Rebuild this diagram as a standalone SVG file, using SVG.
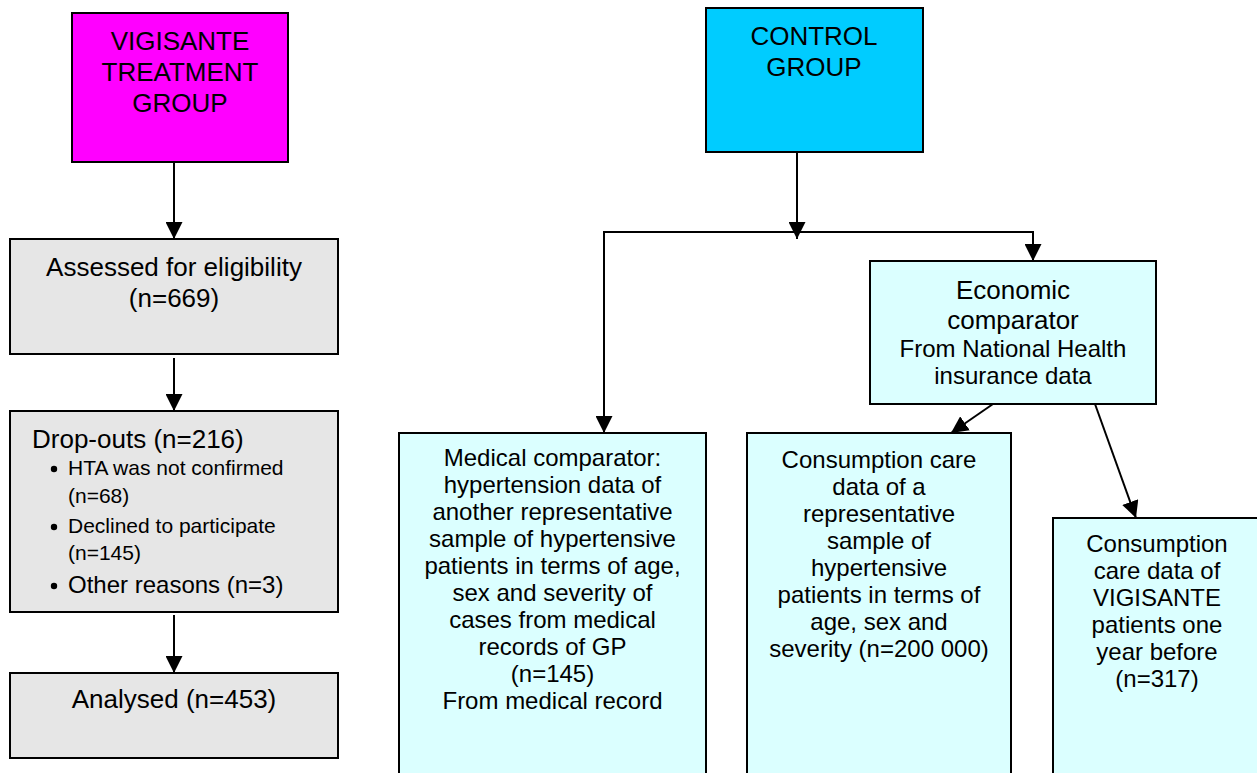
<svg xmlns="http://www.w3.org/2000/svg" width="1257" height="773" viewBox="0 0 1257 773">
<style>
text{font-family:"Liberation Sans",Arial,sans-serif;fill:#000}
.c{text-anchor:middle}
.f26{font-size:26px}
.f24{font-size:24px}
.f21{font-size:21px}
.box{stroke:#000;stroke-width:2}
.grey{fill:#E6E6E6}
.lc{fill:#DBFFFF}
.conn{stroke:#000;stroke-width:2;fill:none}
</style>
<defs>
<marker id="ah" markerUnits="userSpaceOnUse" markerWidth="17" markerHeight="17" viewBox="0 0 17 17" refX="17" refY="8.5" orient="auto">
<path d="M0,0 L17,8.5 L0,17 Z" fill="#000"/>
</marker>
</defs>
<rect width="1257" height="773" fill="#fff"/>

<g id="connectors">
<line class="conn" x1="174" y1="162" x2="174" y2="239" marker-end="url(#ah)"/>
<line class="conn" x1="174" y1="358" x2="174" y2="411" marker-end="url(#ah)"/>
<line class="conn" x1="174" y1="615" x2="174" y2="673" marker-end="url(#ah)"/>
<polyline class="conn" points="604,232 1033,232 1033,261" marker-end="url(#ah)"/>
<polyline class="conn" points="605,232 604,232 604,433" marker-end="url(#ah)"/>
<line class="conn" x1="797" y1="152" x2="797" y2="239" marker-end="url(#ah)"/>
<line class="conn" x1="993" y1="404" x2="951" y2="433" marker-end="url(#ah)"/>
<line class="conn" x1="1095" y1="404" x2="1136" y2="518" marker-end="url(#ah)"/>
</g>

<g id="vigisante">
<rect class="box" x="72" y="13" width="216" height="149" fill="#FF00FF"/>
<text class="c f26" x="180" y="50">VIGISANTE</text>
<text class="c f26" x="180" y="81">TREATMENT</text>
<text class="c f26" x="180" y="112">GROUP</text>
</g>

<g id="assessed">
<rect class="box grey" x="10" y="239" width="328" height="115"/>
<text class="c f26" x="174" y="276">Assessed for eligibility</text>
<text class="c f26" x="174" y="307">(n=669)</text>
</g>

<g id="dropouts">
<rect class="box grey" x="10" y="411" width="328" height="201"/>
<text class="f26" x="32" y="448">Drop-outs (n=216)</text>
<circle cx="54" cy="469" r="3.2" fill="#000"/>
<text class="f21" x="68" y="475">HTA was not confirmed</text>
<text class="f21" x="68" y="503">(n=68)</text>
<circle cx="54" cy="527" r="3.2" fill="#000"/>
<text class="f21" x="68" y="533">Declined to participate</text>
<text class="f21" x="68" y="560">(n=145)</text>
<circle cx="54" cy="586" r="3.2" fill="#000"/>
<text class="f24" x="68" y="593">Other reasons (n=3)</text>
</g>

<g id="analysed">
<rect class="box grey" x="10" y="673" width="328" height="85"/>
<text class="c f26" x="174" y="708">Analysed (n=453)</text>
</g>

<g id="control">
<rect class="box" x="706" y="8" width="217" height="144" fill="#00CCFF"/>
<text class="c f26" x="814" y="45">CONTROL</text>
<text class="c f26" x="814" y="76">GROUP</text>
</g>

<g id="economic">
<rect class="box lc" x="870" y="261" width="286" height="143"/>
<text class="c f26" x="1013" y="299">Economic</text>
<text class="c f26" x="1013" y="329">comparator</text>
<text class="c f24" x="1013" y="357">From National Health</text>
<text class="c f24" x="1013" y="384">insurance data</text>
</g>

<g id="medical">
<rect class="box lc" x="399" y="433" width="307" height="360"/>
<text class="c f24" x="552.5" y="466">Medical comparator:</text>
<text class="c f24" x="552.5" y="493">hypertension data of</text>
<text class="c f24" x="552.5" y="520">another representative</text>
<text class="c f24" x="552.5" y="547">sample of hypertensive</text>
<text class="c f24" x="552.5" y="574">patients in terms of age,</text>
<text class="c f24" x="552.5" y="601">sex and severity of</text>
<text class="c f24" x="552.5" y="628">cases from medical</text>
<text class="c f24" x="552.5" y="655">records of GP</text>
<text class="c f24" x="552.5" y="682">(n=145)</text>
<text class="c f24" x="552.5" y="709">From medical record</text>
</g>

<g id="consumption1">
<rect class="box lc" x="747" y="433" width="264" height="360"/>
<text class="c f24" x="879" y="468">Consumption care</text>
<text class="c f24" x="879" y="495">data of a</text>
<text class="c f24" x="879" y="522">representative</text>
<text class="c f24" x="879" y="549">sample of</text>
<text class="c f24" x="879" y="576">hypertensive</text>
<text class="c f24" x="879" y="603">patients in terms of</text>
<text class="c f24" x="879" y="630">age, sex and</text>
<text class="c f24" x="879" y="657">severity (n=200 000)</text>
</g>

<g id="consumption2">
<rect class="box lc" x="1053" y="518" width="220" height="280"/>
<text class="c f24" x="1157" y="552">Consumption</text>
<text class="c f24" x="1157" y="579">care data of</text>
<text class="c f24" x="1157" y="606">VIGISANTE</text>
<text class="c f24" x="1157" y="633">patients one</text>
<text class="c f24" x="1157" y="660">year before</text>
<text class="c f24" x="1157" y="687">(n=317)</text>
</g>
</svg>
